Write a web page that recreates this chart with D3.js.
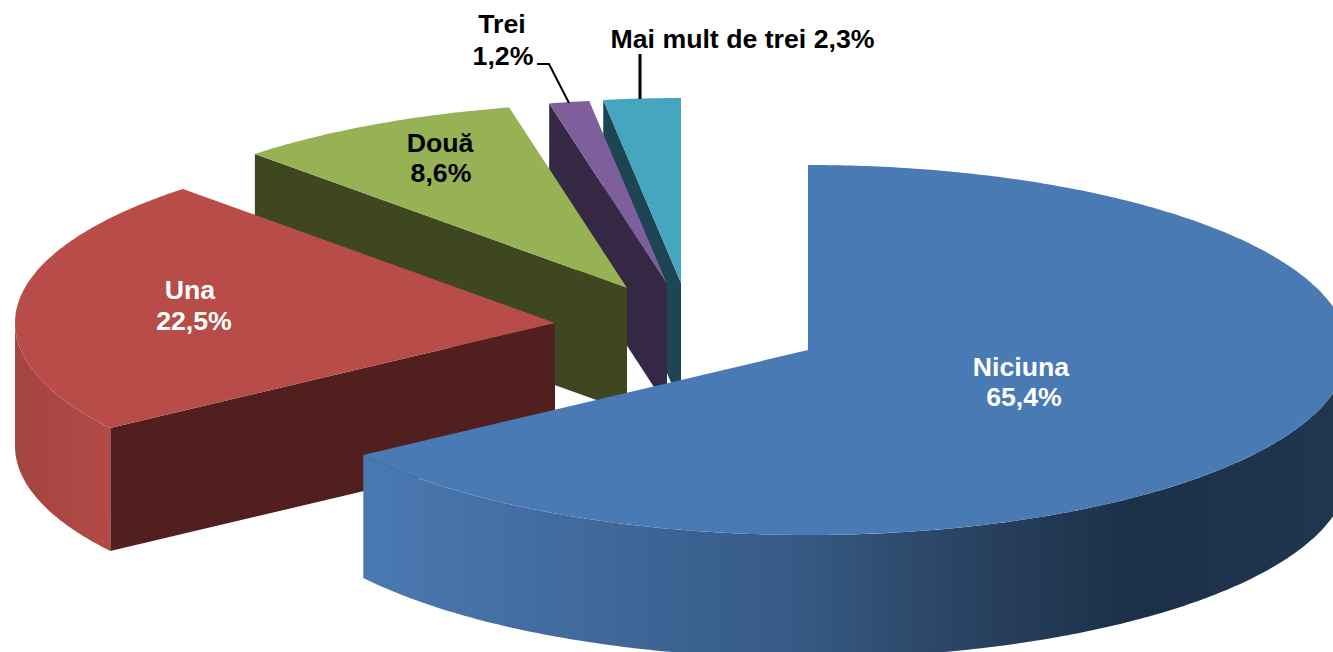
<!DOCTYPE html>
<html><head><meta charset="utf-8">
<script src="https://cdn.jsdelivr.net/npm/d3@7/dist/d3.min.js"></script>
<style>html,body{margin:0;padding:0;background:#fff;overflow:hidden}svg{display:block}text{font-family:"Liberation Sans",Arial,sans-serif;font-weight:700;font-size:26.7px}</style>
</head><body><svg id="c" width="1333" height="652"></svg>
<script>
const categories = ["Niciuna","Una","Două","Trei","Mai mult de trei"];
const values = [65.4,22.5,8.6,1.2,2.3];
const valueLabels = ["65,4%","22,5%","8,6%","1,2%","2,3%"];

const topColors  = ["#4a7ab4","#b84c48","#97b254","#7e5f9c","#46a6c0"];
const flatColors = ["#1f3550","#51201e","#3f4720","#352844","#1e4553"];
const RX=540, RY=185, DEPTH=123;
const centers = [[808,350],[555,323],[627,288],[667,284],[681,283]];
const labelPos = [
  {lines:[[1021,376],[1024,406]],fill:"#fff"},
  {lines:[[190,299],[194,330]],fill:"#fff"},
  {lines:[[440,152],[441,182]],fill:"#000"},
  {lines:[[502,33],[503,65]],fill:"#000"},
  {lines:[[742.5,48]],fill:"#000"}
];

const svg=d3.select("#c");
const defs=svg.append("defs");
const gb=defs.append("linearGradient").attr("id","gBlue").attr("gradientUnits","userSpaceOnUse").attr("x1",362).attr("x2",1333).attr("y1",0).attr("y2",0);
[[0,"#4a79b2"],[0.2,"#426b9f"],[0.45,"#365a85"],[0.6,"#2b4565"],[0.79,"#1c3048"],[1,"#20354f"]].forEach(s=>gb.append("stop").attr("offset",s[0]).attr("stop-color",s[1]));
const gr=defs.append("linearGradient").attr("id","gRed").attr("gradientUnits","userSpaceOnUse").attr("x1",15).attr("x2",110).attr("y1",0).attr("y2",0);
[[0,"#a4453f"],[1,"#b24a46"]].forEach(s=>gr.append("stop").attr("offset",s[0]).attr("stop-color",s[1]));
const curvedFill=["url(#gBlue)","url(#gRed)",null,null,null];

const arcs=d3.pie().sort(null)(values);
const pt=(i,t,dy=0)=>[centers[i][0]+RX*Math.sin(t),centers[i][1]-RY*Math.cos(t)+dy];
function sample(i,a,b,dy){const n=Math.max(2,Math.ceil(Math.abs(b-a)/0.01));return d3.range(n+1).map(k=>pt(i,a+(b-a)*k/n,dy));}
const line=d3.line().curve(d3.curveLinear);

// painted back to front
d3.range(arcs.length-1,-1,-1).forEach(i=>{
  const a=arcs[i],g=svg.append("g");
  const s=a.startAngle,e=a.endAngle;
  if(i>0){
    const c=centers[i],p=pt(i,s);
    g.append("path").attr("d",line([c,p,[p[0],p[1]+DEPTH],[c[0],c[1]+DEPTH]])+"Z").attr("fill",flatColors[i]);
  }
  const lo=Math.max(s,Math.PI/2),hi=Math.min(e,Math.PI*1.5);
  if(hi>lo && curvedFill[i]){
    const pts=sample(i,lo,hi,0).concat(sample(i,hi,lo,DEPTH));
    g.append("path").attr("d",line(pts)+"Z").attr("fill",curvedFill[i]);
  }
  const tp=[centers[i]].concat(sample(i,s,e,0));
  g.append("path").attr("d",line(tp)+"Z").attr("fill",topColors[i]);
});

// leader lines
svg.append("path").attr("d",line([[537,64],[549,64],[569,103]])).attr("fill","none").attr("stroke","#000").attr("stroke-width",2);
svg.append("path").attr("d",line([[640,54],[640,99]])).attr("fill","none").attr("stroke","#000").attr("stroke-width",3);

// labels
categories.forEach((c,i)=>{
  const L=labelPos[i];
  const strs=L.lines.length===2?[c,valueLabels[i]]:[c+" "+valueLabels[i]];
  strs.forEach((t,k)=>svg.append("text").attr("x",L.lines[k][0]).attr("y",L.lines[k][1]).attr("text-anchor","middle").attr("fill",L.fill).text(t));
});
</script></body></html>
